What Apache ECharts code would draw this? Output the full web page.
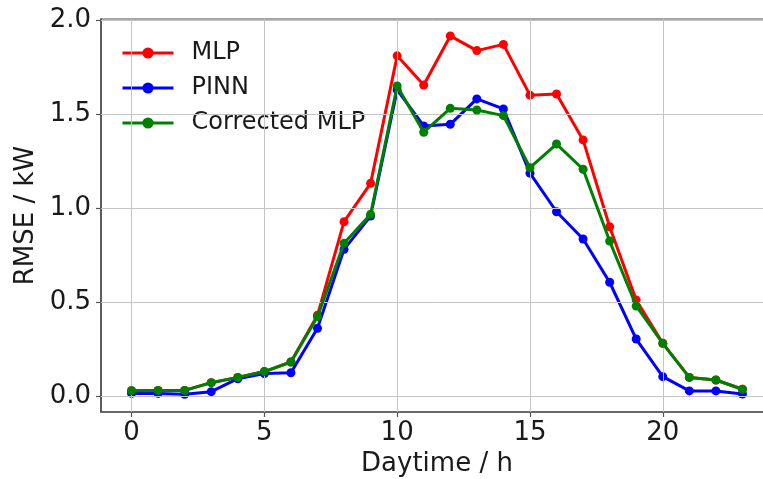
<!DOCTYPE html>
<html>
<head>
<meta charset="utf-8">
<script src="https://cdn.jsdelivr.net/npm/echarts@6/dist/echarts.min.js"></script>
<style>
html,body{margin:0;padding:0;background:#fff;}
#chart{width:763px;height:479px;}
</style>
</head>
<body>
<div id="chart"></div>
<script>
const hours = [0,1,2,3,4,5,6,7,8,9,10,11,12,13,14,15,16,17,18,19,20,21,22,23];
const mlp = [0.028,0.030,0.030,0.071,0.099,0.130,0.181,0.430,0.927,1.131,1.809,1.654,1.915,1.837,1.870,1.600,1.606,1.362,0.900,0.510,0.280,0.099,0.085,0.036];
const pinn = [0.014,0.014,0.009,0.023,0.092,0.120,0.124,0.360,0.780,0.957,1.628,1.436,1.445,1.580,1.527,1.185,0.980,0.835,0.605,0.303,0.103,0.027,0.027,0.011];
const corrected = [0.028,0.030,0.030,0.071,0.099,0.130,0.181,0.422,0.812,0.966,1.649,1.403,1.530,1.521,1.491,1.214,1.340,1.206,0.824,0.479,0.280,0.099,0.085,0.036];
const xTicks = [0,5,10,15,20];
const yTicks = [0,0.5,1.0,1.5,2.0];
const seriesNames = ['MLP','PINN','Corrected MLP'];
const seriesColors = ['#ff0000','#0000ff','#008000'];

const FONT = 'DejaVu Sans';
const pair = arr => hours.map((h,i)=>[h, arr[i]]);

const gridLineData = yTicks.map(v=>({yAxis:v})).concat(xTicks.map(v=>({xAxis:v})));

const dataSets = [mlp, pinn, corrected];
const lineSeries = dataSets.map((d,i)=>({
  name: seriesNames[i],
  type: 'line',
  data: pair(d),
  symbol: 'circle',
  symbolSize: 9,
  showSymbol: true,
  clip: false,
  z: 3 + i,
  lineStyle: {color: seriesColors[i], width: 3},
  itemStyle: {color: seriesColors[i]},
  emphasis: {disabled: true}
}));

const chart = echarts.init(document.getElementById('chart'), null, {renderer:'canvas'});
chart.setOption({
  animation: false,
  backgroundColor: '#ffffff',
  textStyle: {fontFamily: FONT},
  grid: {
    left: 101, top: 19, width: 672, height: 393,
    containLabel: false, outerBoundsMode: 'none',
    show: true, borderColor: '#8a8a8a', borderWidth: 1.5, backgroundColor: 'transparent'
  },
  legend: {
    data: seriesNames,
    orient: 'vertical',
    left: 116, top: 36,
    itemWidth: 51, itemHeight: 14,
    itemGap: 11,
    lineStyle: {width: 3},
    textStyle: {fontFamily: FONT, fontSize: 24, color: '#1a1a1a', lineHeight: 24, padding: [0,0,0,13]}
  },
  xAxis: {
    type: 'value', min: -1.15, max: 24.15,
    name: 'Daytime / h', nameLocation: 'middle', nameGap: 34,
    nameTextStyle: {fontFamily: FONT, fontSize: 26, color: '#1a1a1a'},
    axisLine: {show: true, onZero: false, lineStyle: {color: '#555', width: 1.5}},
    axisTick: {show: true, inside: false, length: 5, customValues: xTicks, lineStyle: {color: '#555', width: 1.2}},
    axisLabel: {customValues: xTicks, fontFamily: FONT, fontSize: 26, color: '#1a1a1a', margin: 8},
    splitLine: {show: false}
  },
  yAxis: {
    type: 'value', min: -0.085, max: 2.005,
    name: 'RMSE / kW', nameLocation: 'middle', nameGap: 62,
    nameTextStyle: {fontFamily: FONT, fontSize: 26, color: '#1a1a1a'},
    axisLine: {show: true, onZero: false, lineStyle: {color: '#444', width: 1.5}},
    axisTick: {show: true, inside: false, length: 5, customValues: yTicks, lineStyle: {color: '#555', width: 1.2}},
    axisLabel: {customValues: yTicks, fontFamily: FONT, fontSize: 26, color: '#1a1a1a', margin: 10,
      formatter: v => v.toFixed(1)},
    splitLine: {show: false}
  },
  series: [{
    name: 'gridlines',
    type: 'line',
    data: [],
    z: 1,
    silent: true,
    markLine: {
      silent: true,
      symbol: ['none','none'],
      label: {show: false},
      animation: false,
      lineStyle: {color: '#c4c4c4', width: 1, type: 'solid'},
      emphasis: {disabled: true},
      data: gridLineData
    }
  }].concat(lineSeries)
});
</script>
</body>
</html>
